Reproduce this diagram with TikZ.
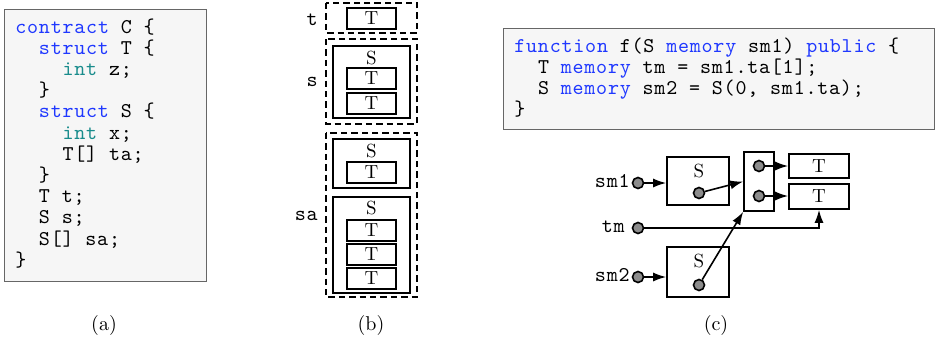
\documentclass[tikz,border=0pt]{standalone}
\usepackage{fontspec}
\newfontfamily\codefont{lmmono10-regular.otf}[LetterSpace=3.7]
\usetikzlibrary{arrows.meta}
\definecolor{kwblue}{rgb}{0.12,0.22,1}
\definecolor{kwteal}{rgb}{0.1,0.55,0.55}
\definecolor{codebg}{gray}{0.965}
\definecolor{codeframe}{gray}{0.4}
\newlength{\codecw}
\setlength{\codecw}{5.9pt}
\newcommand{\codesize}{\fontsize{10.5}{10.6}\selectfont}
\newcommand{\kw}[1]{\textcolor{kwblue}{#1}}
\newcommand{\ty}[1]{\textcolor{kwteal}{#1}}
\newcommand{\ind}[1]{\hspace*{#1\codecw}}
\tikzset{
  code/.style={font=\codesize\codefont,anchor=base west,inner sep=0pt},
  codebox/.style={fill=codebg,draw=codeframe,line width=0.5pt},
  tbox/.style={draw,line width=1pt,minimum width=24.5pt,minimum height=10.5pt,inner sep=0pt,font=\fontsize{9.5}{10}\selectfont},
  sbox/.style={draw,line width=0.8pt,inner sep=0pt},
  group/.style={draw,line width=0.9pt,dash pattern=on 3.2pt off 2pt},
  ptr/.style={circle,draw,fill=black!45,line width=0.8pt,inner sep=0pt,minimum size=5.5pt},
  lbl/.style={font=\fontsize{9.5}{10}\selectfont,inner sep=0pt},
  link/.style={-{Latex[length=6.5pt,width=4.5pt]},line width=0.8pt}
}
\begin{document}
\begin{tikzpicture}[x=0.5pt,y=-0.5pt]
\useasboundingbox (0,0) rectangle (938,343);

% (a) the contract
\draw[codebox] (4,9) rectangle (206,281);
\foreach \txt [count=\i] in {
  {\kw{contract} C \{},
  {\ind{2}\kw{struct} T \{},
  {\ind{4}\ty{int} z;},
  {\ind{2}\}},
  {\ind{2}\kw{struct} S \{},
  {\ind{4}\ty{int} x;},
  {\ind{4}T[] ta;},
  {\ind{2}\}},
  {\ind{2}T t;},
  {\ind{2}S s;},
  {\ind{2}S[] sa;},
  {\}}}
{
  \node[code] (a\i) at (15,11.8+21.2*\i) {\txt};
}
\node (capa) at (104,325) {(a)};

% (b) storage layout
\draw[group] (326,3) rectangle (417,33);
\draw[group] (326,39) rectangle (417,124);
\draw[group] (326,133) rectangle (417,297);
\node[code,anchor=base east] (tlab) at (318,25) {t};
\node[code,anchor=base east] (slab) at (318,86) {s};
\node[code,anchor=base east] (salab) at (318,220) {sa};

\node[sbox,minimum width=38.5pt,minimum height=36pt] (bs) at (371.5,82) {};
\node[sbox,minimum width=38.5pt,minimum height=24.5pt] (bsa1) at (371.5,163.5) {};
\node[sbox,minimum width=38.5pt,minimum height=48pt] (bsa2) at (371.5,245) {};
\node[lbl] (bslab) at (371.5,58) {S};
\node[lbl] (bsa1lab) at (371.5,151) {S};
\node[lbl] (bsa2lab) at (371.5,208) {S};
\foreach \y [count=\i] in {18,78.5,103.5,172.5,230,254,278}
  \node[tbox] (bt\i) at (371.5,\y) {T};
\node (capb) at (371,325) {(b)};

% (c) memory references
\draw[codebox] (503,28) rectangle (934,129);
\foreach \txt [count=\i] in {
  {\kw{function} f(S \kw{memory} sm1) \kw{public} \{},
  {\ind{2}T \kw{memory} tm = sm1.ta[1];},
  {\ind{2}S \kw{memory} sm2 = S(0, sm1.ta);},
  {\}}}
{
  \node[code] (c\i) at (514,30.7+21.3*\i) {\txt};
}

\node[code,anchor=base east] (sm1lab) at (630,187) {sm1};
\node[code,anchor=base east] (tmlab) at (625,232) {tm};
\node[code,anchor=base east] (sm2lab) at (630,281) {sm2};
\node[ptr] (sm1p) at (638,183) {};
\node[ptr] (tmp) at (638,228) {};
\node[ptr] (sm2p) at (638,277) {};

\node[sbox,minimum width=31pt,minimum height=24pt] (s1) at (698,181) {};
\node[lbl] (s1lab) at (699,171) {S};
\node[ptr] (s1p) at (699,193) {};
\node[sbox,minimum width=31pt,minimum height=25pt] (s2) at (698,272) {};
\node[lbl] (s2lab) at (699,261) {S};
\node[ptr] (s2p) at (699,285) {};

\node[sbox,minimum width=15pt,minimum height=29.5pt] (arr) at (759,181.5) {};
\node[ptr] (arr1) at (759,166) {};
\node[ptr] (arr2) at (759,196) {};
\node[sbox,minimum width=30pt,minimum height=12pt,font=\fontsize{9.5}{10}\selectfont] (t1) at (819,166) {T};
\node[sbox,minimum width=30pt,minimum height=12.5pt,font=\fontsize{9.5}{10}\selectfont] (t2) at (819,196.5) {T};

\draw[link] (sm1p) -- (s1.west |- sm1p);
\draw[link] (sm2p) -- (s2.west |- sm2p);
\draw[link] (s1p) -- (arr.west);
\draw[link] (s2p) -- (arr.south west);
\draw[link] (arr1) -- (t1.west |- arr1);
\draw[link] (arr2) -- (t2.west |- arr2);
\draw[link] (tmp) -| (t2.south);
\node (capc) at (716,325) {(c)};
\end{tikzpicture}
\end{document}
